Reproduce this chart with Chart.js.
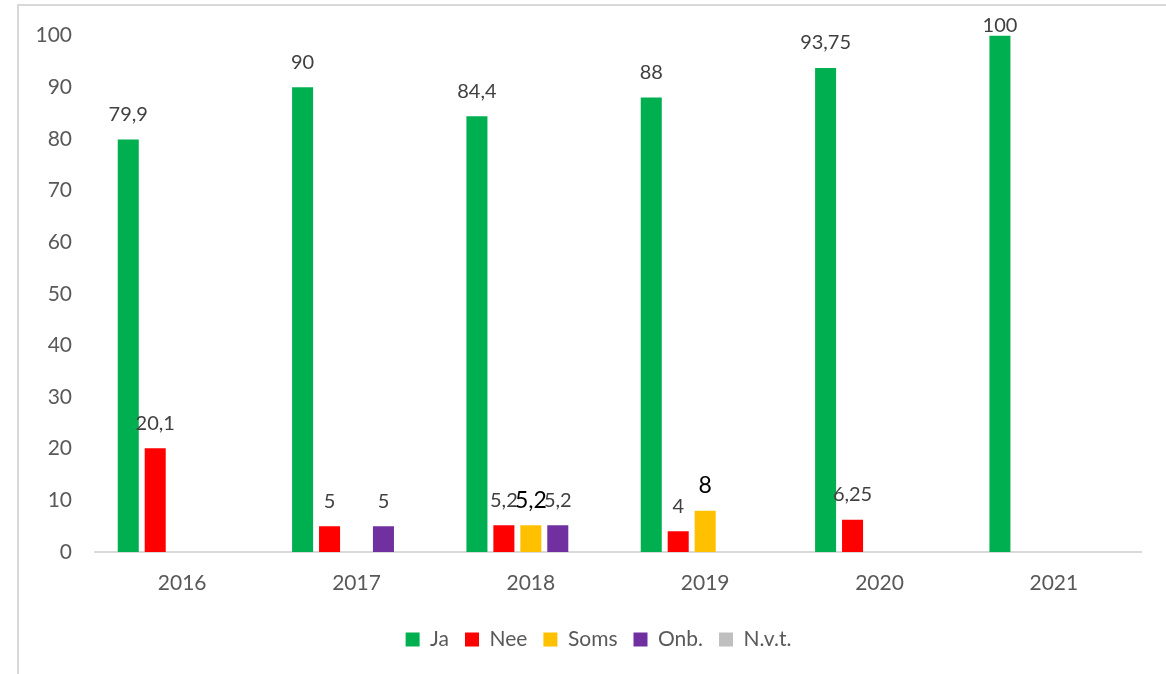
<!DOCTYPE html>
<html>
<head>
<meta charset="utf-8">
<script src="https://cdn.jsdelivr.net/npm/chart.js@4/dist/chart.umd.min.js"></script>
<style>
    html, body { margin: 0; padding: 0; background: #fff; overflow: hidden; }
    #frame {
        position: absolute; left: 17px; top: 4px;
        width: 1200px; height: 720px;
        border: 2px solid #d9d9d9;
    }
    #wrap { position: absolute; left: 0; top: 0; width: 1166px; height: 674px; }
</style>
</head>
<body>
<div id="frame"></div>
<div id="wrap"><canvas id="barChart"></canvas></div>
<script>
// categorieën en reeksen
const years = ['2016', '2017', '2018', '2019', '2020', '2021'];
const ja   = [79.9, 90, 84.4, 88, 93.75, 100];
const nee  = [20.1, 5, 5.2, 4, 6.25, null];
const soms = [null, null, 5.2, 8, null, null];
const onb  = [null, 5, 5.2, null, null, null];
const nvt  = [null, null, null, null, null, null];
const yTicks = [0, 10, 20, 30, 40, 50, 60, 70, 80, 90, 100];

const FONT = 'Lato, "Open Sans", sans-serif';

// waarden boven de staven (geen datalabels plugin beschikbaar)
const valueLabels = {
    id: 'valueLabels',
    afterDatasetsDraw(chart) {
        const ctx = chart.ctx;
        const top = chart.chartArea.top;
        ctx.save();
        ctx.textAlign = 'center';
        ctx.textBaseline = 'middle';
        chart.data.datasets.forEach(function (ds, i) {
            const meta = chart.getDatasetMeta(i);
            if (meta.hidden) return;
            meta.data.forEach(function (bar, j) {
                const v = ds.data[j];
                if (v === null || v === undefined) return;
                ctx.fillStyle = ds.labelColor || '#404040';
                ctx.font = (ds.labelSize || 20) + 'px ' + FONT;
                // label binnen het kader houden (zoals bij 100)
                const y = Math.max(bar.y - 25, top - 10);
                ctx.fillText(String(v).replace('.', ','), bar.x, y);
            });
        });
        ctx.restore();
    }
};

// legenda iets naar rechts, zoals in het origineel
const legendShift = {
    id: 'legendShift',
    afterLayout(chart) {
        if (chart.legend) {
            chart.legend.left += 28;
            chart.legend.right += 28;
        }
    }
};

const ctx = document.getElementById('barChart').getContext('2d');
const myChart = new Chart(ctx, {
    type: 'bar',
    data: {
        labels: years,
        datasets: [
            { label: 'Ja', data: ja, backgroundColor: '#00b050' },
            { label: 'Nee', data: nee, backgroundColor: '#ff0000' },
            { label: 'Soms', data: soms, backgroundColor: '#ffc000', labelColor: '#000', labelSize: 23 },
            { label: 'Onb.', data: onb, backgroundColor: '#7030a0' },
            { label: 'N.v.t.', data: nvt, backgroundColor: '#bfbfbf' }
        ]
    },
    plugins: [valueLabels, legendShift],
    options: {
        responsive: true,
        maintainAspectRatio: false,
        animation: false,
        datasets: {
            bar: {
                categoryPercentage: 0.773,
                barPercentage: 0.78
            }
        },
        layout: {
            padding: { left: 0, right: 25, top: 34, bottom: 14 }
        },
        scales: {
            x: {
                grid: { display: false, drawTicks: false },
                border: { display: true, color: '#d9d9d9', width: 2 },
                ticks: {
                    color: '#595959',
                    font: { family: FONT, size: 21 },
                    padding: 19
                },
                afterFit: function (scale) { scale.height = 61; }
            },
            y: {
                min: 0,
                max: 100,
                grid: { display: false, drawTicks: false },
                border: { display: false },
                afterBuildTicks: function (scale) {
                    scale.ticks = yTicks.map(function (v) { return { value: v }; });
                },
                ticks: {
                    color: '#595959',
                    font: { family: FONT, size: 21 },
                    padding: 23
                },
                afterFit: function (scale) { scale.width = 95; }
            }
        },
        plugins: {
            legend: {
                position: 'bottom',
                labels: {
                    color: '#595959',
                    font: { family: FONT, size: 21 },
                    boxWidth: 14,
                    boxHeight: 14,
                    padding: 16
                }
            },
            tooltip: { enabled: false }
        }
    }
});
</script>
</body>
</html>
